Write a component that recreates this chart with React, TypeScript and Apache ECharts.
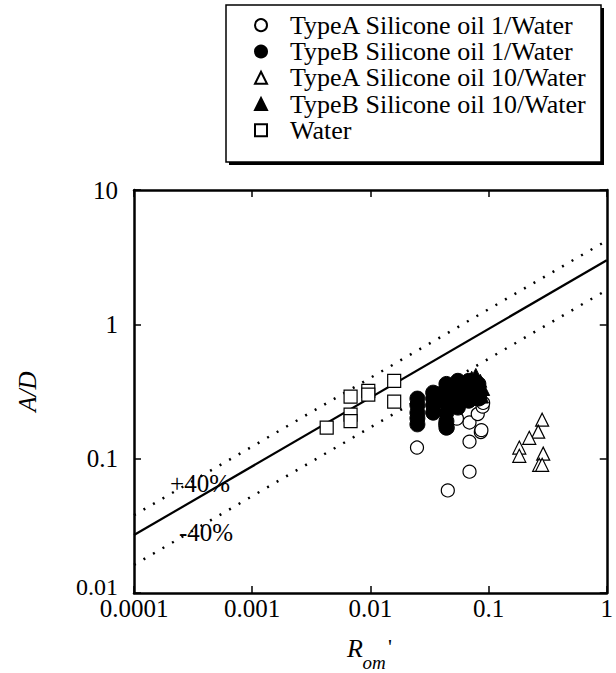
import React, { useEffect, useRef } from 'react';
import * as echarts from 'echarts';

// ---- data ----
const typeA1X = [0.0248, 0.0452, 0.069, 0.069, 0.086, 0.087, 0.069, 0.054, 0.081, 0.089, 0.043, 0.045, 0.09, 0.085];
const typeA1Y = [0.121, 0.058, 0.080, 0.134, 0.158, 0.163, 0.186, 0.199, 0.215, 0.244, 0.18, 0.17, 0.26, 0.28];

const typeB1X = [0.025, 0.025, 0.025, 0.025, 0.025, 0.034, 0.034, 0.034, 0.034, 0.044, 0.044, 0.044, 0.044, 0.044, 0.044, 0.044, 0.055, 0.055, 0.055, 0.055, 0.055, 0.068, 0.068, 0.068, 0.068, 0.082, 0.082, 0.082];
const typeB1Y = [0.18, 0.20, 0.22, 0.25, 0.28, 0.22, 0.25, 0.28, 0.31, 0.17, 0.19, 0.22, 0.26, 0.30, 0.33, 0.36, 0.24, 0.27, 0.31, 0.35, 0.38, 0.27, 0.31, 0.35, 0.38, 0.28, 0.32, 0.36];

const typeA10X = [0.284, 0.263, 0.221, 0.182, 0.182, 0.29, 0.268, 0.284];
const typeA10Y = [0.195, 0.159, 0.143, 0.121, 0.105, 0.109, 0.090, 0.090];

const typeB10X = [0.065, 0.072, 0.078, 0.085, 0.09, 0.08, 0.07, 0.088];
const typeB10Y = [0.36, 0.40, 0.42, 0.38, 0.33, 0.30, 0.32, 0.29];

const waterX = [0.00427, 0.0068, 0.0068, 0.0068, 0.0096, 0.0096, 0.0159, 0.0159];
const waterY = [0.170, 0.29, 0.213, 0.19, 0.32, 0.30, 0.38, 0.266];

const fitX = [0.0001, 1];
const fitY = [0.027, 3.0];
const upperY = [0.038, 4.2];
const lowerY = [0.0162, 1.8];

const xTickLabels = ['0.0001', '0.001', '0.01', '0.1', '1'];
const yTickLabels = ['0.01', '0.1', '1', '10'];

const seriesNames = [
  'TypeA Silicone oil 1/Water',
  'TypeB Silicone oil 1/Water',
  'TypeA Silicone oil 10/Water',
  'TypeB Silicone oil 10/Water',
  'Water',
];

const zip = (xs: number[], ys: number[]) => xs.map((x, i) => [x, ys[i]]);

const FONT = 'Liberation Serif';

export default function App() {
  const ref = useRef<HTMLDivElement>(null);
  useEffect(() => {
    if (!ref.current) return;
    const chart = echarts.init(ref.current, undefined, { renderer: 'svg' });
    const open = { color: '#fff', borderColor: '#000', borderWidth: 1.2, opacity: 1 };
    const filled = { color: '#000', borderColor: '#000', borderWidth: 1, opacity: 1 };
    const axisCommon = {
      type: 'log' as const,
      logBase: 10,
      axisLine: { show: true, lineStyle: { color: '#000', width: 2.5 } },
      axisTick: { show: true, inside: true, length: 7, lineStyle: { color: '#000', width: 1.5 } },
      splitLine: { show: false },
      minorTick: { show: false },
    };
    chart.setOption({
      animation: false,
      backgroundColor: '#fff',
      textStyle: { fontFamily: FONT },
      grid: { left: 134, right: 9, top: 190, bottom: 80, containLabel: false },
      legend: {
        data: seriesNames,
        orient: 'vertical',
        left: 249,
        top: 7,
        itemWidth: 12,
        itemHeight: 12,
        itemGap: 0,
        z: 10,
        inactiveColor: '#000',
        textStyle: { fontFamily: FONT, fontSize: 26, color: '#000', lineHeight: 26.3, padding: [0, 0, 0, 18] },
      },
      xAxis: [
        {
          ...axisCommon,
          min: 0.0001,
          max: 1,
          position: 'bottom',
          axisLabel: {
            fontFamily: FONT,
            fontSize: 25,
            color: '#000',
            margin: 3,
            formatter: (v: number) => xTickLabels[Math.round(Math.log10(v)) + 4],
          },
        },
        {
          ...axisCommon,
          min: 0.0001,
          max: 1,
          position: 'top',
          axisLabel: { show: false },
        },
      ],
      yAxis: [
        {
          ...axisCommon,
          min: 0.01,
          max: 10,
          position: 'left',
          name: 'A/D',
          nameLocation: 'middle',
          nameGap: 94,
          nameRotate: 90,
          nameTextStyle: { fontFamily: FONT, fontSize: 25, fontStyle: 'italic', color: '#000' },
          axisLabel: {
            fontFamily: FONT,
            fontSize: 25,
            color: '#000',
            margin: 16,
            formatter: (v: number) => {
              const i = Math.round(Math.log10(v)) + 2;
              return i === 0 ? '{b|' + yTickLabels[i] + '}' : yTickLabels[i];
            },
            rich: { b: { fontFamily: FONT, fontSize: 24, color: '#000', padding: [0, 0, 12, 0] } },
          },
        },
        {
          ...axisCommon,
          min: 0.01,
          max: 10,
          position: 'right',
          axisLabel: { show: false },
        },
      ],
      graphic: [
        { type: 'rect', z: 0, shape: { x: 229, y: 8, width: 375, height: 157 }, style: { fill: '#000' } },
        { type: 'rect', z: 1, shape: { x: 226, y: 5, width: 375, height: 157 }, style: { fill: '#fff', stroke: '#000', lineWidth: 1.5 } },
        { type: 'text', z: 5, x: 200, y: 483, style: { text: '+40%', font: `25px ${FONT}`, fill: '#000', align: 'center', verticalAlign: 'middle' } },
        { type: 'text', z: 5, x: 206, y: 532, style: { text: '-40%', font: `25px ${FONT}`, fill: '#000', align: 'center', verticalAlign: 'middle' } },
        { type: 'text', z: 5, x: 355, y: 648, style: { text: 'R', font: `italic 26px ${FONT}`, fill: '#000', align: 'center', verticalAlign: 'middle' } },
        { type: 'text', z: 5, x: 374, y: 662, style: { text: 'om', font: `italic 19px ${FONT}`, fill: '#000', align: 'center', verticalAlign: 'middle' } },
        { type: 'text', z: 5, x: 390, y: 646, style: { text: "'", font: `22px ${FONT}`, fill: '#000', align: 'center', verticalAlign: 'middle' } },
      ],
      series: [
        {
          name: 'fit', type: 'line', data: zip(fitX, fitY), symbol: 'none', silent: true,
          lineStyle: { color: '#000', width: 2.2 }, z: 1,
        },
        {
          name: 'upper', type: 'line', data: zip(fitX, upperY), symbol: 'none', silent: true,
          lineStyle: { color: '#000', width: 2.5, type: [2, 9] }, z: 1,
        },
        {
          name: 'lower', type: 'line', data: zip(fitX, lowerY), symbol: 'none', silent: true,
          lineStyle: { color: '#000', width: 2.5, type: [2, 9] }, z: 1,
        },
        { name: seriesNames[0], type: 'scatter', symbol: 'circle', symbolSize: 13, itemStyle: open, data: zip(typeA1X, typeA1Y), z: 2 },
        { name: seriesNames[2], type: 'scatter', symbol: 'triangle', symbolSize: 13, itemStyle: open, data: zip(typeA10X, typeA10Y), z: 2 },
        { name: seriesNames[4], type: 'scatter', symbol: 'rect', symbolSize: 13, itemStyle: open, data: zip(waterX, waterY), z: 2 },
        { name: seriesNames[1], type: 'scatter', symbol: 'circle', symbolSize: 15, itemStyle: filled, data: zip(typeB1X, typeB1Y), z: 3 },
        { name: seriesNames[3], type: 'scatter', symbol: 'triangle', symbolSize: 13, itemStyle: filled, data: zip(typeB10X, typeB10Y), z: 3 },
      ],
    });
    return () => chart.dispose();
  }, []);
  return <div ref={ref} style={{ position: 'fixed', left: 0, top: 0, width: 616, height: 673 }} />;
}
